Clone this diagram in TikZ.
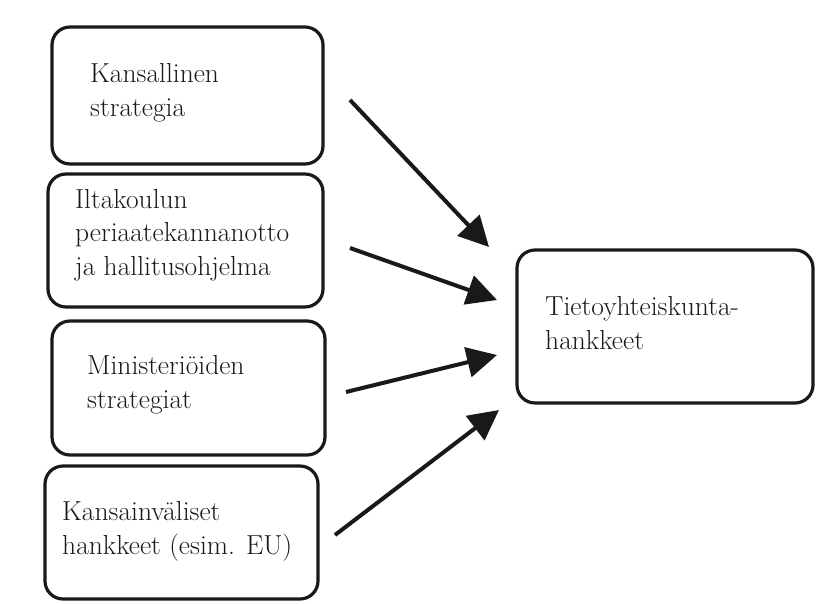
\documentclass[tikz,border=0pt]{standalone}
\usepackage{fontspec}
\usetikzlibrary{arrows.meta}
\tikzset{
  box/.style={draw=black!90, line width=3.2pt, rounded corners=18pt, inner sep=0pt},
  lbl/.style={anchor=base west, align=left, inner sep=0pt, font=\fontsize{27.5pt}{33.5pt}\selectfont, text=black!90},
  arr/.style={draw=black!90, line width=4pt, -{Triangle[length=30pt,width=30pt]}}
}
\begin{document}
\begin{tikzpicture}[x=1pt,y=-1pt]
\useasboundingbox (0,0) rectangle (838,603);
% boxes
\node[box, minimum width=271pt, minimum height=137pt] (b1) at (187.5,95.5) {};
\node[box, minimum width=275pt, minimum height=133pt] (b2) at (185.5,240.5) {};
\node[box, minimum width=273pt, minimum height=134pt] (b3) at (188.5,388) {};
\node[box, minimum width=273pt, minimum height=133pt] (b4) at (181.5,532.5) {};
\node[box, minimum width=296pt, minimum height=153pt] (r) at (665,326.5) {};
% texts (anchored at the baseline of the last line)
\node[lbl] (t1) at (90,116) {Kansallinen\\strategia};
\node[lbl] (t2) at (75,275) {Iltakoulun\\periaatekannanotto\\ja hallitusohjelma};
\node[lbl] (t3) at (87,408) {Ministeriöiden\\strategiat};
\node[lbl] (t4) at (62,554) {Kansainväliset\\hankkeet (esim. EU)};
\node[lbl] (t5) at (545,349) {Tietoyhteiskunta-\\hankkeet};
% arrow ends
\coordinate (s1) at (350,100);
\coordinate (e1) at (489,247);
\coordinate (s2) at (350,248);
\coordinate (e2) at (497,300);
\coordinate (s3) at (346,392);
\coordinate (e3) at (497,355);
\coordinate (s4) at (335,535);
\coordinate (e4) at (499,410);
\draw[arr] (s1) -- (e1);
\draw[arr] (s2) -- (e2);
\draw[arr] (s3) -- (e3);
\draw[arr] (s4) -- (e4);
\end{tikzpicture}
\end{document}
